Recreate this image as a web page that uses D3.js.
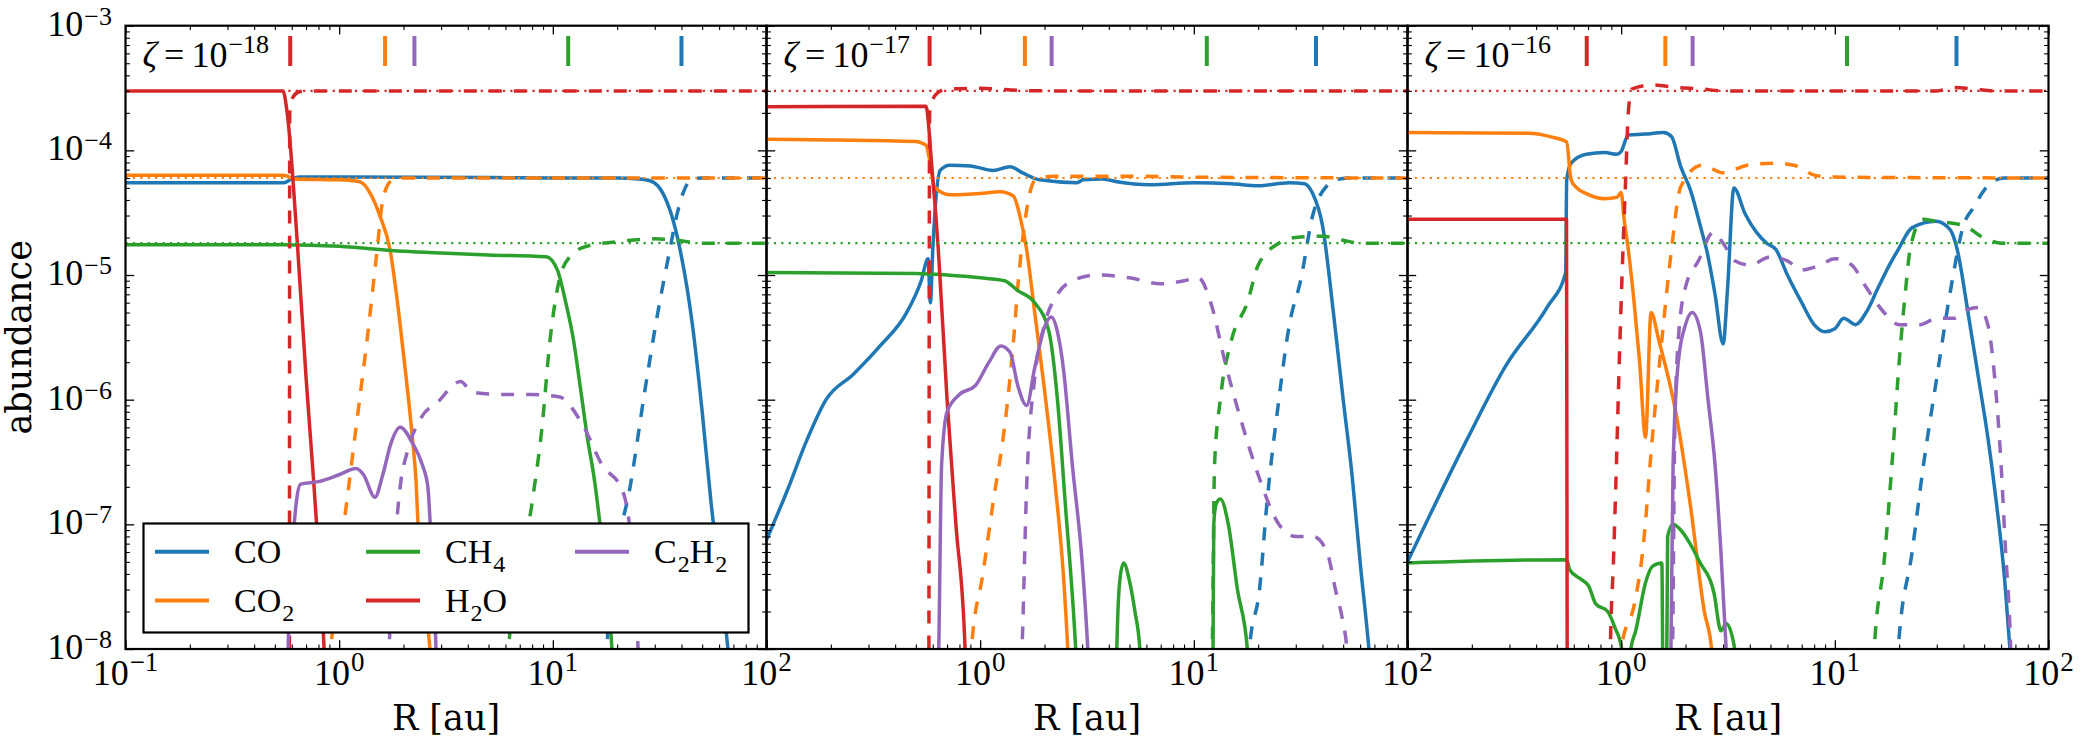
<!DOCTYPE html>
<html><head><meta charset="utf-8">
<script src="https://cdn.jsdelivr.net/npm/d3@7"></script>
<style>body{margin:0;background:#fff}svg{display:block}</style>
</head><body><svg id="c" width="2091" height="747"></svg>
<script>
// ---------------- DATA (R [au], abundance) ----------------
const species = ["CO", "CO2", "CH4", "H2O", "C2H2"];
const speciesColors = ["#1f77b4", "#ff7f0e", "#2ca02c", "#d62728", "#9467bd"];
const zetaExponents = ["−18", "−17", "−16"];
const xTickLabels = [[[0.1, "−1"], [1, "0"], [10, "1"], [100, "2"]], [[1, "0"], [10, "1"], [100, "2"]], [[1, "0"], [10, "1"], [100, "2"]]];
const yTickLabels = [[1e-3, "−3"], [1e-4, "−4"], [1e-5, "−5"], [1e-6, "−6"], [1e-7, "−7"], [1e-8, "−8"]];
const refLevels = [3e-4, 6e-5, 1.8e-5];
const refColors = ["#d62728", "#ff7f0e", "#2ca02c"];
// snowline markers (order: H2O, CO2, C2H2, CH4, CO)
const snowColors = ["#d62728", "#ff7f0e", "#9467bd", "#2ca02c", "#1f77b4"];
const snow18 = [0.59, 1.64, 2.25, 11.8, 40];
const snow17 = [0.58, 1.62, 2.16, 11.5, 37.3];
const snow16 = [0.69, 1.61, 2.16, 11.4, 37.1];

// zeta = 1e-18
const co_s_18 = [[0.1,5.5e-5],[0.55,5.5e-5],[0.6,5.9e-5],[0.65,6.1e-5],[1,6.1e-5],[5,6.05e-5],[10,6e-5],[20,6e-5],[25,5.9e-5],[28.5,5.7e-5],[32.8,4.5e-5],[36,3e-5],[39.4,1.6e-5],[45,4e-6],[50,8e-7],[55,1.5e-7],[60,4e-8],[66,1e-8],[70,3e-9]];
const co_d_18 = [[17.5,3e-9],[17.9,1e-8],[20,6e-8],[23,2e-7],[27,1.2e-6],[31,5e-6],[35.3,1.6e-5],[38,3e-5],[40.6,4.5e-5],[45,5.9e-5],[50,6e-5],[100,6e-5]];
const co2_s_18 = [[0.1,6.3e-5],[0.55,6.3e-5],[0.62,5.9e-5],[1,5.8e-5],[1.25,5.6e-5],[1.4,4.5e-5],[1.55,3e-5],[1.73,1.6e-5],[1.9,5e-6],[2.05,1.6e-6],[2.2,5e-7],[2.29,2.2e-7],[2.34,1e-7],[2.5,3e-8],[2.66,1e-8],[2.8,3e-9]];
const co2_d_18 = [[0.88,3e-9],[0.916,1e-8],[1.0,5e-8],[1.09,1.6e-7],[1.2,6e-7],[1.35,3e-6],[1.5,1.5e-5],[1.6,4e-5],[1.75,5.7e-5],[1.9,6e-5],[100,6e-5]];
const ch4_s_18 = [[0.1,1.75e-5],[0.55,1.75e-5],[1,1.7e-5],[2,1.55e-5],[3,1.5e-5],[5,1.45e-5],[9.3,1.4e-5],[10.5,1.1e-5],[11.5,6e-6],[12.5,3e-6],[13.5,1.2e-6],[14.5,5e-7],[15.7,2.2e-7],[17,7e-8],[18.9,1e-8],[19.5,3e-9]];
const ch4_d_18 = [[6.0,3e-9],[6.2,1e-8],[8.0,1.5e-7],[8.9,6e-7],[9.7,3e-6],[10.7,9e-6],[12,1.4e-5],[14.4,1.7e-5],[20,1.85e-5],[30,1.95e-5],[38,1.9e-5],[50,1.8e-5],[100,1.8e-5]];
const h2o_s_18 = [[0.1,3e-4],[0.546,3e-4],[0.571,2e-4],[0.64,1.6e-5],[0.7,1.5e-6],[0.76,2.2e-7],[0.8,6e-8],[0.85,1e-8],[0.87,3e-9]];
const h2o_d_18 = [[0.585,1e-9],[0.587,2e-4],[0.61,2.7e-4],[0.65,2.95e-4],[0.7,3e-4],[100,3e-4]];
const c2h2_s_18 = [[0.572,3e-9],[0.577,1e-8],[0.6,5e-8],[0.63,1.5e-7],[0.66,2.1e-7],[0.8,2.2e-7],[1.0,2.5e-7],[1.2,2.8e-7],[1.3,2.5e-7],[1.47,1.65e-7],[1.6,2.5e-7],[1.75,4.5e-7],[1.93,6e-7],[2.2,4.5e-7],[2.45,3e-7],[2.6,2e-7],[2.72,5e-8],[2.84,1e-8],[2.9,3e-9]];
const c2h2_d_18 = [[1.65,3e-9],[1.71,1e-8],[1.8,5e-8],[1.93,2e-7],[2.1,4e-7],[2.4,7e-7],[2.97,1e-6],[3.4,1.3e-6],[3.7,1.4e-6],[4.2,1.15e-6],[6,1.1e-6],[8,1.1e-6],[10.8,1.05e-6],[12,9e-7],[14,6e-7],[17,3e-7],[21.1,1.9e-7],[22.5,1.2e-7],[24,4e-8],[25,1.1e-8],[25.5,3e-9]];

// zeta = 1e-17
const co_s_17 = [[0.1,7.5e-8],[0.124,1.8e-7],[0.155,4.8e-7],[0.19,1e-6],[0.255,1.6e-6],[0.34,2.7e-6],[0.45,4.9e-6],[0.53,9e-6],[0.57,1.35e-5],[0.585,6e-6],[0.6,1.6e-5],[0.65,6.9e-5],[0.72,7.6e-5],[0.9,7.5e-5],[1.15,6.9e-5],[1.38,7.4e-5],[1.58,6.6e-5],[1.9,5.8e-5],[2.84,5.5e-5],[3.03,5.8e-5],[3.76,5.9e-5],[4.37,5.6e-5],[6.24,5.3e-5],[10,5.5e-5],[15,5.4e-5],[20,5.2e-5],[28,5.5e-5],[33,5.4e-5],[36,4.5e-5],[40,2.5e-5],[45,5e-6],[50,1e-6],[55,2.5e-7],[60,5e-8],[66,1e-8],[70,3e-9]];
const co_d_17 = [[17.5,3e-9],[18.2,1e-8],[20.3,3e-8],[22,1.5e-7],[25,1e-6],[28,4e-6],[31.6,9e-6],[36,3e-5],[42,5.2e-5],[48,5.9e-5],[55,6e-5],[100,6e-5]];
const co2_s_17 = [[0.1,1.23e-4],[0.5,1.18e-4],[0.557,1.1e-4],[0.583,8e-5],[0.61,5.1e-5],[0.72,4.4e-5],[1.0,4.5e-5],[1.24,4.65e-5],[1.43,4.3e-5],[1.54,2.9e-5],[1.65,1.6e-5],[1.8,5e-6],[2.0,1.2e-6],[2.25,2e-7],[2.45,4e-8],[2.57,1e-8],[2.65,3e-9]];
const co2_d_17 = [[0.89,3e-9],[0.91,1e-8],[1.03,4e-8],[1.15,1.5e-7],[1.3,6e-7],[1.42,2.5e-6],[1.5,8e-6],[1.56,1.6e-5],[1.63,2.9e-5],[1.8,5.7e-5],[2.2,6.2e-5],[5,6.2e-5],[10,6.1e-5],[100,6e-5]];
const ch4_s_17 = [[0.1,1.05e-5],[0.5,1.03e-5],[0.7,1.0e-5],[1.0,9.5e-6],[1.3,9e-6],[1.5,7.5e-6],[1.8,6e-6],[2.1,3.5e-6],[2.3,1e-6],[2.5,1.5e-7],[2.8,1e-8],[2.9,3e-9],[4.3,3e-9],[4.36,1e-8],[4.5,3.5e-8],[4.69,4.9e-8],[5.0,3.5e-8],[5.3,2e-8],[5.59,1e-8],[5.7,3e-9],[12.1,3e-9],[12.3,1e-8],[12.4,1e-7],[12.7,1.45e-7],[13.3,1.6e-7],[14.5,1e-7],[16,3e-8],[17.8,1e-8],[18.2,3e-9]];
const ch4_d_17 = [[12.0,3e-9],[12.2,1e-8],[12.5,3e-7],[13.3,1e-6],[15,3e-6],[17.8,6e-6],[20,1.2e-5],[25,1.8e-5],[30,2e-5],[40,2.05e-5],[50,1.9e-5],[60,1.8e-5],[100,1.8e-5]];
const h2o_s_17 = [[0.1,2.24e-4],[0.557,2.26e-4],[0.594,7.4e-5],[0.637,1.6e-5],[0.7,1e-6],[0.77,1e-7],[0.85,1e-8],[0.87,3e-9]];
const h2o_d_17 = [[0.575,1e-9],[0.58,2e-4],[0.62,2.8e-4],[0.7,3.1e-4],[1.0,3.15e-4],[1.4,3.05e-4],[2,3e-4],[100,3e-4]];
const c2h2_s_17 = [[0.63,3e-9],[0.64,1e-8],[0.66,3e-7],[0.7,8e-7],[0.8,1.1e-6],[0.95,1.3e-6],[1.1,2e-6],[1.25,2.7e-6],[1.38,2.4e-6],[1.5,1.3e-6],[1.65,9e-7],[1.8,1.8e-6],[2.0,3.8e-6],[2.15,4.6e-6],[2.3,3.5e-6],[2.45,1.8e-6],[2.7,3e-7],[3.0,5e-8],[3.19,1e-8],[3.3,3e-9]];
const c2h2_d_17 = [[1.52,3e-9],[1.57,1e-8],[1.65,2e-7],[1.8,1.5e-6],[2.0,4e-6],[2.3,7e-6],[2.7,9e-6],[3.5,1e-5],[5,9.5e-6],[7,8.5e-6],[9,9e-6],[10.5,9.5e-6],[12,6e-6],[14,2e-6],[17,6e-7],[20,2.5e-7],[25,1e-7],[30,8e-8],[36,8e-8],[42,6e-8],[46,3e-8],[50,1.6e-8],[52,1e-8],[53,3e-9]];

// zeta = 1e-16
const co_s_16 = [[0.1,5e-8],[0.19,4.8e-7],[0.29,1.9e-6],[0.45,5.5e-6],[0.55,1.05e-5],[0.556,5.8e-5],[0.583,7.9e-5],[0.687,9.3e-5],[0.84,9.6e-5],[0.955,9.3e-5],[1.0,9.8e-5],[1.08,1.33e-4],[1.29,1.35e-4],[1.58,1.39e-4],[1.72,1.29e-4],[1.9,7.4e-5],[2.11,4.8e-5],[2.39,2.2e-5],[2.51,1.6e-5],[2.75,7e-6],[3.0,2.8e-6],[3.15,8e-6],[3.37,5e-5],[3.8,3.1e-5],[4.3,2.2e-5],[4.8,1.8e-5],[5.3,1.6e-5],[6,1e-5],[7,6e-6],[8,4e-6],[9,3.5e-6],[10,3.7e-6],[11,4.5e-6],[12.5,4e-6],[14,5e-6],[16,8e-6],[18,1.2e-5],[19.8,1.6e-5],[23,2.4e-5],[29.7,2.7e-5],[34.7,2.3e-5],[37.4,1.6e-5],[42,5e-6],[47,1.5e-6],[52,5e-7],[57,1.5e-7],[62,4e-8],[66,1e-8],[70,3e-9]];
const co_d_16 = [[19.5,3e-9],[19.8,1e-8],[23,6e-8],[26,3e-7],[30,1.5e-6],[35,8e-6],[40,2.5e-5],[44.7,3.5e-5],[50,4.8e-5],[55,5.6e-5],[62,6e-5],[100,6e-5]];
const co2_s_16 = [[0.1,1.39e-4],[0.37,1.37e-4],[0.48,1.27e-4],[0.555,1.17e-4],[0.583,5.8e-5],[0.62,5e-5],[0.687,4.5e-5],[0.84,4.1e-5],[0.955,4.2e-5],[1.0,4.6e-5],[1.03,2.9e-5],[1.08,1.6e-5],[1.15,6e-6],[1.22,2e-6],[1.3,5e-7],[1.38,5e-6],[1.5,3e-6],[1.8,8e-7],[2.1,1.5e-7],[2.45,2e-8],[2.65,1e-8],[2.75,3e-9]];
const co2_d_16 = [[0.97,3e-9],[1.0,1e-8],[1.16,2.4e-8],[1.26,6e-8],[1.4,5e-7],[1.55,3e-6],[1.72,1.6e-5],[1.9,5.1e-5],[2.39,7.6e-5],[3.0,6.6e-5],[3.89,7.6e-5],[5.3,7.9e-5],[6.45,7.6e-5],[8.1,6.3e-5],[10,6.1e-5],[100,6e-5]];
const ch4_s_16 = [[0.1,4.9e-8],[0.555,5.2e-8],[0.575,4.3e-8],[0.653,3.6e-8],[0.705,3.2e-8],[0.76,2.3e-8],[0.865,2e-8],[0.933,1.5e-8],[1.006,1e-8],[1.03,3e-9],[1.08,3e-9],[1.11,1e-8],[1.17,1.4e-8],[1.3,3.4e-8],[1.4,4.6e-8],[1.55,4.9e-8],[1.58,1e-9],[1.62,1e-9],[1.65,8e-8],[1.75,1e-7],[1.9,9e-8],[2.1,7e-8],[2.33,5e-8],[2.72,2.8e-8],[2.93,1.4e-8],[3.1,1.6e-8],[3.4,1e-8],[3.5,3e-9]];
const ch4_d_16 = [[15,3e-9],[15.3,1e-8],[17,5e-8],[18.5,3e-7],[20,2e-6],[21.5,8e-6],[22.5,1.6e-5],[25.7,2.8e-5],[29.7,2.7e-5],[40,2.5e-5],[49.5,2e-5],[60.5,1.8e-5],[100,1.8e-5]];
const h2o_s_16 = [[0.1,2.8e-5],[0.555,2.8e-5],[0.56,1e-9]];
const h2o_d_16 = [[0.88,3e-9],[0.89,1e-8],[0.92,5e-8],[0.95,3e-7],[0.98,2e-6],[1.01,1e-5],[1.05,6e-5],[1.08,2e-4],[1.12,3.1e-4],[1.4,3.35e-4],[1.8,3.2e-4],[2.4,3.1e-4],[3.0,3e-4],[30,3e-4],[36,3.2e-4],[45,3.1e-4],[55,3e-4],[100,3e-4]];
const c2h2_s_16 = [[1.68,3e-9],[1.71,1e-8],[1.75,3e-7],[1.85,2e-6],[2.0,4e-6],[2.15,5e-6],[2.35,3.5e-6],[2.55,1e-6],[2.75,3e-7],[2.93,6e-8],[3.1,1e-8],[3.2,3e-9]];
const c2h2_d_16 = [[1.7,3e-9],[1.74,1e-8],[1.78,5e-7],[1.85,3e-6],[2.0,8e-6],[2.3,1.3e-5],[2.7,2.2e-5],[3.0,1.8e-5],[3.4,1.3e-5],[4,1.2e-5],[5,1.4e-5],[6,1.3e-5],[7,1.1e-5],[8.5,1.2e-5],[10,1.35e-5],[12,1.2e-5],[14,8e-6],[17,5e-6],[20,4e-6],[25,4e-6],[30,4.5e-6],[36,4.5e-6],[42,5.3e-6],[47,5.5e-6],[52,4e-6],[56,1.5e-6],[60,3e-7],[63,6e-8],[66,1.5e-8],[68,3e-9]];

// ---------------- LAYOUT ----------------
const panels = [
  {zeta: zetaExponents[0], snow: snow18, xt: xTickLabels[0], solid: [co_s_18, co2_s_18, ch4_s_18, h2o_s_18, c2h2_s_18], dashed: [co_d_18, co2_d_18, ch4_d_18, h2o_d_18, c2h2_d_18]},
  {zeta: zetaExponents[1], snow: snow17, xt: xTickLabels[1], solid: [co_s_17, co2_s_17, ch4_s_17, h2o_s_17, c2h2_s_17], dashed: [co_d_17, co2_d_17, ch4_d_17, h2o_d_17, c2h2_d_17]},
  {zeta: zetaExponents[2], snow: snow16, xt: xTickLabels[2], solid: [co_s_16, co2_s_16, ch4_s_16, h2o_s_16, c2h2_s_16], dashed: [co_d_16, co2_d_16, ch4_d_16, h2o_d_16, c2h2_d_16]}
];
const X0 = 125.5, PW = 641, YT = 25.7, YB = 649;
const SERIF_MATH = "'Liberation Serif', 'DejaVu Serif', serif";
const SERIF_LABEL = "'DejaVu Serif', serif";

const svg = d3.select("#c");
svg.append("rect").attr("width", 2091).attr("height", 747).attr("fill", "#fff");
const y = d3.scaleLog().domain([1e-8, 1e-3]).range([YB, YT]);

const majorX = [0.1, 1, 10, 100];
const minorX = [];
[0.1, 1, 10].forEach(d => { for (let k = 2; k <= 9; k++) minorX.push(d * k); });
const majorY = [1e-8, 1e-7, 1e-6, 1e-5, 1e-4, 1e-3];
const minorY = [];
[1e-8, 1e-7, 1e-6, 1e-5, 1e-4].forEach(d => { for (let k = 2; k <= 9; k++) minorY.push(d * k); });

function styleAxis(sel, w) {
  sel.select(".domain").remove();
  sel.selectAll(".tick line").attr("stroke", "#000").attr("stroke-width", w);
  sel.selectAll(".tick text").remove();
}

function powerLabel(parent, xp, yp, anchor, exp, size, supSize, rise) {
  const t = parent.append("text").attr("x", xp).attr("y", yp).attr("text-anchor", anchor)
    .attr("font-family", SERIF_MATH).attr("font-size", size).attr("fill", "#000");
  t.append("tspan").text("10");
  t.append("tspan").attr("dx", 1).attr("dy", -rise).attr("font-size", supSize).text(exp);
  return t;
}

panels.forEach((P, i) => {
  const x0 = X0 + PW * i;
  const x = d3.scaleLog().domain([0.1, 100]).range([x0, x0 + PW]);
  const g = svg.append("g");
  const cid = "clip" + i;
  svg.append("defs").append("clipPath").attr("id", cid)
    .append("rect").attr("x", x0).attr("y", YT).attr("width", PW).attr("height", YB - YT);
  const plot = g.append("g").attr("clip-path", `url(#${cid})`);
  const line = d3.line().x(d => x(d[0])).y(d => y(d[1])).curve(d3.curveMonotoneX);

  species.forEach((s, k) => {
    plot.append("path").datum(P.solid[k]).attr("d", line)
      .attr("fill", "none").attr("stroke", speciesColors[k]).attr("stroke-width", 3.5)
      .attr("stroke-linejoin", "round");
    plot.append("path").datum(P.dashed[k]).attr("d", line)
      .attr("fill", "none").attr("stroke", speciesColors[k]).attr("stroke-width", 3.5)
      .attr("stroke-dasharray", "13,12");
  });
  refLevels.forEach((v, k) => {
    plot.append("path").datum([[0.1, v], [100, v]]).attr("d", d3.line().x(d => x(d[0])).y(d => y(d[1])))
      .attr("fill", "none").attr("stroke", refColors[k]).attr("stroke-width", 2.2)
      .attr("stroke-dasharray", "2.2,5.2");
  });
  P.snow.forEach((r, k) => {
    g.append("line").attr("x1", x(r)).attr("x2", x(r)).attr("y1", 36).attr("y2", 66)
      .attr("stroke", snowColors[k]).attr("stroke-width", 4);
  });

  const mk = (axis, tr, vals, size, w) => {
    const a = g.append("g").attr("transform", tr).call(axis.tickValues(vals).tickSize(size).tickSizeOuter(0).tickFormat(""));
    styleAxis(a, w);
  };
  mk(d3.axisBottom(x), `translate(0,${YB})`, majorX, -8.7, 1.3);
  mk(d3.axisBottom(x), `translate(0,${YB})`, minorX, -4.4, 1.1);
  mk(d3.axisTop(x), `translate(0,${YT})`, majorX, -8.7, 1.3);
  mk(d3.axisTop(x), `translate(0,${YT})`, minorX, -4.4, 1.1);
  mk(d3.axisLeft(y), `translate(${x0},0)`, majorY, -8.7, 1.3);
  mk(d3.axisLeft(y), `translate(${x0},0)`, minorY, -4.4, 1.1);
  mk(d3.axisRight(y), `translate(${x0 + PW},0)`, majorY, -8.7, 1.3);
  mk(d3.axisRight(y), `translate(${x0 + PW},0)`, minorY, -4.4, 1.1);

  g.append("rect").attr("x", x0).attr("y", YT).attr("width", PW).attr("height", YB - YT)
    .attr("fill", "none").attr("stroke", "#000").attr("stroke-width", 2.2);

  P.xt.forEach(([v, e]) => powerLabel(g, x(v), 685, "middle", e, 36, 27, 14));

  // zeta label
  const z = g.append("text").attr("x", x0 + 17).attr("y", 67)
    .attr("font-family", SERIF_MATH).attr("font-size", 36).attr("fill", "#000");
  z.append("tspan").attr("font-style", "italic").text("ζ");
  z.append("tspan").attr("dx", 7).text("=");
  z.append("tspan").attr("dx", 7).text("10");
  z.append("tspan").attr("dx", 1).attr("dy", -14).attr("font-size", 26).text(P.zeta);

  g.append("text").attr("x", x0 + PW / 2).attr("y", 730).attr("text-anchor", "middle")
    .attr("font-family", SERIF_LABEL).attr("font-size", 35).attr("fill", "#000").text("R [au]");
});

yTickLabels.forEach(([v, e]) => powerLabel(svg, 112, y(v) + 10, "end", e, 36, 26, 11));

svg.append("text").attr("transform", `translate(31,${(YT + YB) / 2}) rotate(-90)`)
  .attr("text-anchor", "middle").attr("font-family", SERIF_LABEL).attr("font-size", 35)
  .attr("fill", "#000").text("abundance");

// legend
const lg = svg.append("g");
lg.append("rect").attr("x", 143.5).attr("y", 523.5).attr("width", 605).attr("height", 109)
  .attr("fill", "#fff").attr("stroke", "#000").attr("stroke-width", 2.2);
const legendCols = [155, 366, 575];
const legendRows = [551.7, 600.5];
const legendLabels = [
  [["C", ""], ["O", ""]],
  [["C", ""], ["O", ""], ["", "2"]],
  [["C", ""], ["H", ""], ["", "4"]],
  [["H", ""], ["", "2"], ["O", ""]],
  [["C", ""], ["", "2"], ["H", ""], ["", "2"]]
];
const legendPos = [[0, 0], [0, 1], [1, 0], [1, 1], [2, 0]];
species.forEach((s, k) => {
  const [c, r] = legendPos[k];
  const lx = legendCols[c], ly = legendRows[r];
  lg.append("line").attr("x1", lx).attr("x2", lx + 54).attr("y1", ly).attr("y2", ly)
    .attr("stroke", speciesColors[k]).attr("stroke-width", 4);
  const t = lg.append("text").attr("x", lx + 79).attr("y", ly + 11)
    .attr("font-family", SERIF_MATH).attr("font-size", 34).attr("fill", "#000");
  let sub = false;
  legendLabels[k].forEach(([main, subs]) => {
    if (main) {
      const ts = t.append("tspan").text(main);
      if (sub) { ts.attr("dy", -9); sub = false; }
    } else {
      t.append("tspan").attr("dx", 1).attr("dy", 9).attr("font-size", 24).text(subs);
      sub = true;
    }
  });
});
</script></body></html>
